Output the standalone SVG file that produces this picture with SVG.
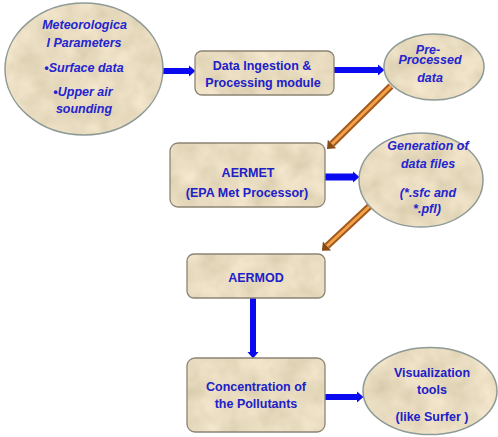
<svg xmlns="http://www.w3.org/2000/svg" width="498" height="437" viewBox="0 0 498 437">
<style>
.fill{filter:url(#tex);fill:#e6d9bc;stroke:none}
.box{fill:none;stroke:#8c8474;stroke-width:1.3}
.ell{fill:none;stroke:#8e9a96;stroke-width:1.5}
.bt{font-family:"Liberation Sans",Arial,sans-serif;font-weight:bold;font-size:12.5px;fill:#2020c8;text-anchor:middle}
.et{font-family:"Liberation Sans",Arial,sans-serif;font-weight:bold;font-style:italic;font-size:12.5px;fill:#2424d0;text-anchor:middle}
.blue{stroke:#0a0af0;stroke-width:6;fill:none;marker-end:url(#bh)}
.orD{stroke:#a45a1c;stroke-width:7;fill:none;stroke-linecap:butt;marker-end:url(#oh)}
.orL{stroke:#f4a24a;stroke-width:3;fill:none}
</style>
<defs>
<filter id="tex" x="0" y="0" width="1" height="1" color-interpolation-filters="sRGB">
<feTurbulence type="fractalNoise" baseFrequency="0.04" numOctaves="3" seed="7" result="n"/>
<feColorMatrix in="n" type="matrix" values="0.15 0 0 0 0.835  0.15 0 0 0 0.785  0.18 0 0 0 0.66  0 0 0 0 1" result="c"/>
<feComposite in="c" in2="SourceAlpha" operator="in"/>
</filter>
<marker id="bh" markerUnits="userSpaceOnUse" markerWidth="7" markerHeight="12" refX="0" refY="6" orient="auto" overflow="visible">
<path d="M0,0.5 L6.5,6 L0,11.5 Z" fill="#0a0af0"/>
</marker>
<marker id="oh" markerUnits="userSpaceOnUse" markerWidth="9" markerHeight="12" refX="0" refY="6" orient="auto" overflow="visible">
<path d="M0,0 L7,6 L0,12 Z" fill="#8a4a14"/>
</marker>
</defs>

<g id="connectors">
<line class="blue" x1="163" y1="71" x2="189" y2="71"/>
<line class="blue" x1="334" y1="70" x2="378" y2="70"/>
<line class="blue" x1="325" y1="177" x2="353" y2="177" style="stroke-width:7"/>
<line class="blue" x1="253" y1="298" x2="253" y2="352"/>
<line class="blue" x1="325" y1="397" x2="357" y2="397"/>
<line class="orD" x1="391" y1="86" x2="332" y2="144"/>
<line class="orL" x1="391" y1="86" x2="332" y2="144"/>
<line class="orD" x1="372" y1="204" x2="327" y2="246"/>
<line class="orL" x1="372" y1="204" x2="327" y2="246"/>
</g>

<g id="met-params">
<ellipse class="fill" cx="84" cy="69" rx="79" ry="66"/>
<ellipse class="ell" cx="84" cy="69" rx="79" ry="66"/>
<text class="et" x="84.5" y="28.5">Meteorologica</text>
<text class="et" x="84" y="46.5">l Parameters</text>
<text class="et" x="84" y="71.5">•Surface data</text>
<text class="et" x="83" y="96">•Upper air</text>
<text class="et" x="84" y="113">sounding</text>
</g>

<g id="data-ingestion">
<rect class="fill" x="195" y="51" width="139" height="44" rx="7"/>
<rect class="box" x="195" y="51" width="139" height="44" rx="7"/>
<text class="bt" x="262" y="69.5">Data Ingestion &amp;</text>
<text class="bt" x="263" y="86.5">Processing module</text>
</g>

<g id="pre-processed">
<ellipse class="fill" cx="434" cy="67" rx="50" ry="33"/>
<ellipse class="ell" cx="434" cy="67" rx="50" ry="33"/>
<text class="et" x="428" y="54">Pre-</text>
<text class="et" x="430" y="64">Processed</text>
<text class="et" x="430" y="81.5">data</text>
</g>

<g id="aermet">
<rect class="fill" x="170" y="143" width="155" height="64" rx="8"/>
<rect class="box" x="170" y="143" width="155" height="64" rx="8"/>
<text class="bt" x="248" y="176.5">AERMET</text>
<text class="bt" x="247" y="196.5">(EPA Met Processor)</text>
</g>

<g id="generation">
<ellipse class="fill" cx="421" cy="180" rx="62" ry="47"/>
<ellipse class="ell" cx="421" cy="180" rx="62" ry="47"/>
<text class="et" x="428" y="150">Generation of</text>
<text class="et" x="428" y="168">data files</text>
<text class="et" x="428" y="197">(*.sfc and</text>
<text class="et" x="427" y="213">*.pfl)</text>
</g>

<g id="aermod">
<rect class="fill" x="187" y="254" width="138" height="44" rx="7"/>
<rect class="box" x="187" y="254" width="138" height="44" rx="7"/>
<text class="bt" x="256" y="281.5">AERMOD</text>
</g>

<g id="concentration">
<rect class="fill" x="187" y="358" width="138" height="74" rx="8"/>
<rect class="box" x="187" y="358" width="138" height="74" rx="8"/>
<text class="bt" x="256" y="390.5">Concentration of</text>
<text class="bt" x="256" y="407.5">the Pollutants</text>
</g>

<g id="visualization">
<ellipse class="fill" cx="430" cy="391" rx="67" ry="43.5"/>
<ellipse class="ell" cx="430" cy="391" rx="67" ry="43.5"/>
<text class="bt" x="432" y="377">Visualization</text>
<text class="bt" x="432" y="394">tools</text>
<text class="bt" x="432" y="421">(like Surfer )</text>
</g>
</svg>
